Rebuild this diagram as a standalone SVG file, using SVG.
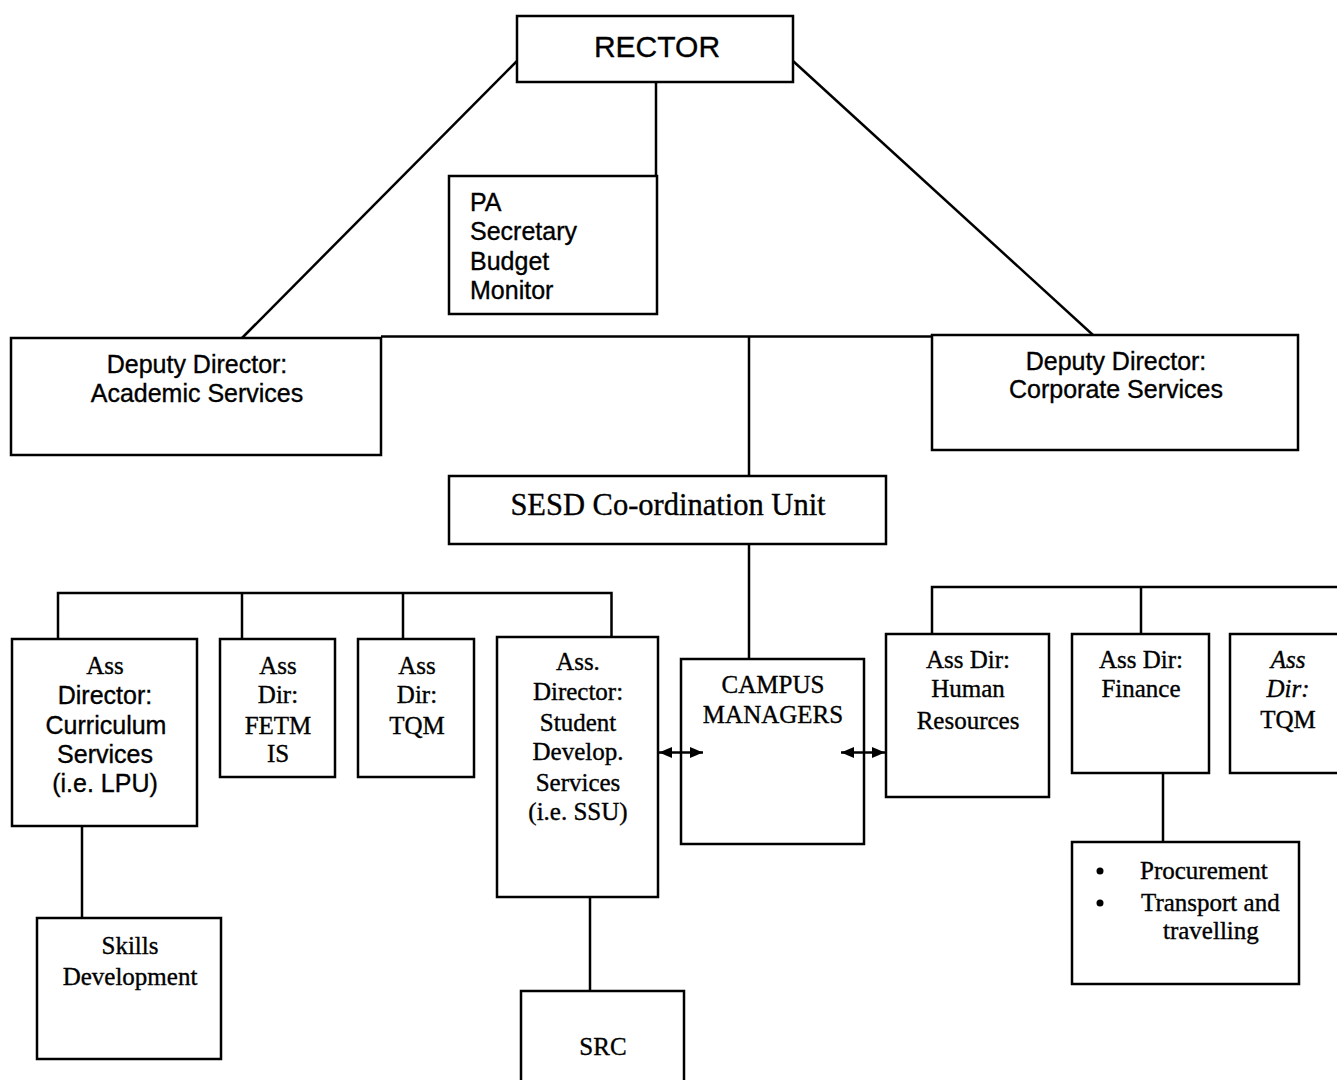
<svg xmlns="http://www.w3.org/2000/svg" width="1337" height="1080" viewBox="0 0 1337 1080">
  <style>
    .box { fill: #ffffff; stroke: #000000; stroke-width: 2.5; }
    .link { fill: none; stroke: #000000; stroke-width: 2.5; }
    .sans { font-family: "Liberation Sans", Arial, sans-serif; font-size: 25px; fill: #000000; stroke: #000000; stroke-width: 0.35; }
    .serif { font-family: "Liberation Serif", "Times New Roman", serif; font-size: 25px; fill: #000000; stroke: #000000; stroke-width: 0.35; }
    .mid { text-anchor: middle; }
    .it { font-style: italic; }
  </style>
  <defs>
    <marker id="head" viewBox="0 0 13 11" refX="13" refY="5.5" markerWidth="13" markerHeight="11" markerUnits="userSpaceOnUse" orient="auto-start-reverse">
      <path d="M0,0 L13,5.5 L0,11 Z" fill="#000000"/>
    </marker>
  </defs>
  <rect x="0" y="0" width="1337" height="1080" fill="#ffffff"/>

  <g id="rector">
    <rect class="box" x="517" y="16" width="276" height="66"/>
    <text class="sans mid" x="657" y="57" style="font-size:30px">RECTOR</text>
  </g>

  <g id="pa-office">
    <rect class="box" x="449" y="176" width="208" height="138"/>
    <text class="sans" x="470" y="211">PA</text>
    <text class="sans" x="470" y="240">Secretary</text>
    <text class="sans" x="470" y="270">Budget</text>
    <text class="sans" x="470" y="299">Monitor</text>
  </g>

  <g id="dd-academic">
    <rect class="box" x="11" y="338" width="370" height="117"/>
    <text class="sans mid" x="197" y="373">Deputy Director:</text>
    <text class="sans mid" x="197" y="402">Academic Services</text>
  </g>

  <g id="dd-corporate">
    <rect class="box" x="932" y="335" width="366" height="115"/>
    <text class="sans mid" x="1116" y="370">Deputy Director:</text>
    <text class="sans mid" x="1116" y="398">Corporate Services</text>
  </g>

  <g id="sesd">
    <rect class="box" x="449" y="476" width="437" height="68"/>
    <text class="serif mid" x="668" y="515" style="font-size:30.5px">SESD Co-ordination Unit</text>
  </g>

  <g id="ad-curriculum">
    <rect class="box" x="12" y="639" width="185" height="187"/>
    <text class="serif mid" x="105" y="674">Ass</text>
    <text class="sans mid" x="105" y="704">Director:</text>
    <text class="sans mid" x="106" y="734">Curriculum</text>
    <text class="sans mid" x="105" y="763">Services</text>
    <text class="sans mid" x="105" y="792">(i.e. LPU)</text>
  </g>

  <g id="ad-fetm">
    <rect class="box" x="220" y="639" width="115" height="138"/>
    <text class="serif mid" x="278" y="674">Ass</text>
    <text class="serif mid" x="278" y="703">Dir:</text>
    <text class="serif mid" x="278" y="734">FETM</text>
    <text class="serif mid" x="278" y="762">IS</text>
  </g>

  <g id="ad-tqm-academic">
    <rect class="box" x="358" y="639" width="116" height="138"/>
    <text class="serif mid" x="417" y="674">Ass</text>
    <text class="serif mid" x="417" y="703">Dir:</text>
    <text class="serif mid" x="417" y="734">TQM</text>
  </g>

  <g id="ad-student">
    <rect class="box" x="497" y="637" width="161" height="260"/>
    <text class="serif mid" x="578" y="670">Ass.</text>
    <text class="serif mid" x="578" y="700">Director:</text>
    <text class="serif mid" x="578" y="731">Student</text>
    <text class="serif mid" x="578" y="760">Develop.</text>
    <text class="serif mid" x="578" y="791">Services</text>
    <text class="serif mid" x="578" y="820">(i.e. SSU)</text>
  </g>

  <g id="campus-managers">
    <rect class="box" x="681" y="659" width="183" height="185"/>
    <text class="serif mid" x="773" y="693">CAMPUS</text>
    <text class="serif mid" x="773" y="723">MANAGERS</text>
  </g>

  <g id="ad-hr">
    <rect class="box" x="886" y="634" width="163" height="163"/>
    <text class="serif mid" x="968" y="668">Ass Dir:</text>
    <text class="serif mid" x="968" y="697">Human</text>
    <text class="serif mid" x="968" y="729">Resources</text>
  </g>

  <g id="ad-finance">
    <rect class="box" x="1072" y="634" width="137" height="139"/>
    <text class="serif mid" x="1141" y="668">Ass Dir:</text>
    <text class="serif mid" x="1141" y="697">Finance</text>
  </g>

  <g id="ad-tqm-corporate">
    <rect class="box" x="1230" y="634" width="120" height="139"/>
    <text class="serif mid it" x="1288" y="668">Ass</text>
    <text class="serif mid it" x="1288" y="697">Dir:</text>
    <text class="serif mid" x="1288" y="728">TQM</text>
  </g>

  <g id="finance-units">
    <rect class="box" x="1072" y="842" width="227" height="142"/>
    <circle cx="1100" cy="871" r="3.5" fill="#000000"/>
    <circle cx="1100" cy="903" r="3.5" fill="#000000"/>
    <text class="serif" x="1140" y="879">Procurement</text>
    <text class="serif" x="1141" y="911">Transport and</text>
    <text class="serif" x="1163" y="939">travelling</text>
  </g>

  <g id="skills-development">
    <rect class="box" x="37" y="918" width="184" height="141"/>
    <text class="serif mid" x="130" y="954">Skills</text>
    <text class="serif mid" x="130" y="985">Development</text>
  </g>

  <g id="src">
    <rect class="box" x="521" y="991" width="163" height="100"/>
    <text class="serif mid" x="603" y="1055">SRC</text>
  </g>

  <!-- connectors, drawn last so the liaison arrowheads sit over box edges -->
  <g id="connectors">
    <line class="link" x1="517" y1="61" x2="242" y2="338"/>
    <line class="link" x1="793" y1="61" x2="1093" y2="335"/>
    <line class="link" x1="656" y1="82" x2="656" y2="176"/>
    <line class="link" x1="381" y1="336.5" x2="932" y2="336.5"/>
    <line class="link" x1="749" y1="336.5" x2="749" y2="476"/>
    <line class="link" x1="749" y1="544" x2="749" y2="659"/>
    <!-- left bus -->
    <polyline class="link" points="58,639 58,593 611.5,593 611.5,637"/>
    <line class="link" x1="242" y1="593" x2="242" y2="639"/>
    <line class="link" x1="403" y1="593" x2="403" y2="639"/>
    <!-- right bus -->
    <polyline class="link" points="932,634 932,587 1345,587"/>
    <line class="link" x1="1141" y1="587" x2="1141" y2="634"/>
    <!-- sub units -->
    <line class="link" x1="82" y1="826" x2="82" y2="918"/>
    <line class="link" x1="590" y1="897" x2="590" y2="991"/>
    <line class="link" x1="1163" y1="773" x2="1163" y2="842"/>
    <!-- campus liaison arrows -->
    <line class="link" x1="659" y1="752.5" x2="703" y2="752.5" marker-start="url(#head)" marker-end="url(#head)"/>
    <line class="link" x1="841" y1="752.5" x2="885" y2="752.5" marker-start="url(#head)" marker-end="url(#head)"/>
  </g>
</svg>
